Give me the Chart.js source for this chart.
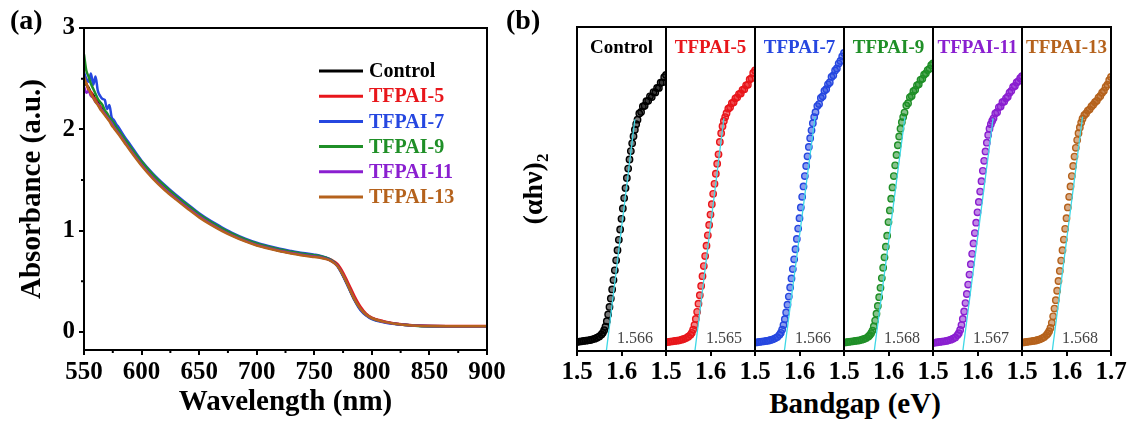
<!DOCTYPE html>
<html>
<head>
<meta charset="utf-8">
<script src="https://cdn.jsdelivr.net/npm/chart.js@4.4.0/dist/chart.umd.min.js"></script>
<style>
body { margin: 0; background: #fff; }
#wrap { position: relative; width: 1132px; height: 425px; overflow: hidden; font-family: 'Liberation Serif', 'Times New Roman', serif; }
#wrap canvas { position: absolute; top: 0; }
.lbl { position: absolute; font-weight: bold; color: #000; white-space: nowrap; line-height: 1; }
.lbl sub { font-size: 17px; }
</style>
</head>
<body>
<div id="wrap">
  <canvas id="chart-a" width="520" height="425" style="left:0"></canvas>
  <div class="lbl" style="left:10px; top:6px; font-size:28px;">(a)</div>
  <div class="lbl" style="left:506px; top:6px; font-size:28px;">(b)</div>
  <div class="lbl" style="left:535px; top:189px; font-size:28px; transform: translate(-50%,-50%) rotate(-90deg);">(αhν)<sub>2</sub></div>
  <div class="lbl" style="left:855px; top:403px; font-size:29px; transform: translate(-50%,-50%);">Bandgap (eV)</div>
</div>
<script>
// 系列名と色
const SERIES_NAMES = ['Control', 'TFPAI-5', 'TFPAI-7', 'TFPAI-9', 'TFPAI-11', 'TFPAI-13'];
const SERIES_COLORS = ['#000000', '#e8161b', '#2647e0', '#1f8f27', '#8a1fd0', '#b5621c'];

// (a) 吸収スペクトル
const WAVELENGTH = [550,552,554,556,558,560,562,564,566,568,570,572,574,576,578,580,585,590,600,610,620,630,640,650,660,670,680,690,700,710,720,730,740,750,755,760,765,770,775,780,785,790,795,800,810,820,830,840,850,870,900];
const ABS_CONTROL = [2.50,2.44,2.41,2.36,2.34,2.29,2.27,2.22,2.20,2.16,2.14,2.10,2.07,2.03,2.01,1.97,1.89,1.81,1.66,1.53,1.42,1.32,1.23,1.145,1.07,1.005,0.95,0.90,0.86,0.83,0.80,0.78,0.76,0.745,0.738,0.725,0.70,0.655,0.56,0.44,0.32,0.23,0.17,0.135,0.10,0.08,0.068,0.06,0.056,0.055,0.055];
const ABS_TFPAI5 = [2.47,2.46,2.38,2.37,2.32,2.30,2.25,2.23,2.18,2.17,2.12,2.11,2.06,2.04,2.00,1.98,1.89,1.82,1.665,1.535,1.425,1.325,1.235,1.15,1.075,1.01,0.955,0.905,0.865,0.833,0.805,0.783,0.763,0.748,0.742,0.73,0.71,0.67,0.585,0.47,0.35,0.25,0.18,0.14,0.105,0.082,0.07,0.062,0.058,0.057,0.056];
const ABS_TFPAI7 = [2.56,2.50,2.47,2.55,2.44,2.52,2.38,2.33,2.30,2.29,2.20,2.24,2.12,2.09,2.05,2.02,1.93,1.85,1.69,1.56,1.45,1.35,1.26,1.17,1.095,1.03,0.97,0.92,0.88,0.848,0.82,0.798,0.778,0.762,0.752,0.735,0.705,0.65,0.55,0.43,0.31,0.215,0.16,0.125,0.095,0.077,0.066,0.059,0.055,0.054,0.054];
const ABS_TFPAI9 = [2.74,2.58,2.52,2.45,2.40,2.35,2.30,2.27,2.24,2.19,2.16,2.12,2.09,2.06,2.02,1.99,1.91,1.83,1.68,1.55,1.44,1.34,1.25,1.16,1.085,1.02,0.962,0.912,0.872,0.84,0.812,0.79,0.77,0.755,0.747,0.732,0.705,0.655,0.555,0.435,0.315,0.225,0.165,0.13,0.098,0.078,0.066,0.058,0.054,0.054,0.055];
const ABS_TFPAI11 = [2.42,2.36,2.38,2.33,2.31,2.27,2.25,2.21,2.18,2.15,2.12,2.09,2.06,2.02,1.99,1.96,1.88,1.80,1.65,1.52,1.41,1.315,1.225,1.14,1.065,1.00,0.945,0.897,0.857,0.827,0.80,0.778,0.758,0.744,0.737,0.723,0.698,0.652,0.56,0.44,0.32,0.228,0.168,0.133,0.099,0.079,0.067,0.059,0.056,0.055,0.055];
const ABS_TFPAI13 = [2.52,2.45,2.40,2.35,2.31,2.27,2.24,2.20,2.17,2.14,2.11,2.08,2.04,2.01,1.98,1.95,1.87,1.79,1.64,1.51,1.40,1.305,1.215,1.13,1.058,0.995,0.94,0.892,0.852,0.822,0.795,0.773,0.753,0.738,0.731,0.718,0.695,0.65,0.56,0.44,0.32,0.23,0.17,0.135,0.10,0.08,0.068,0.06,0.056,0.055,0.055];
const WL_TICKS = [550, 600, 650, 700, 750, 800, 850, 900];
const WL_MINOR = [575, 625, 675, 725, 775, 825, 875];
const ABS_TICKS = [0, 1, 2, 3];
const ABS_MINOR = [0.5, 1.5, 2.5];

// (b) Taucプロット
const ENERGY = [1.500,1.505,1.510,1.515,1.520,1.525,1.530,1.535,1.540,1.545,1.550,1.555,1.558,1.561,1.564,1.567,1.570,1.573,1.576,1.579,1.582,1.585,1.588,1.591,1.594,1.597,1.600,1.603,1.606,1.609,1.612,1.615,1.618,1.621,1.624,1.627,1.630,1.633,1.636,1.640,1.644,1.648,1.652,1.656,1.660,1.664,1.668,1.672,1.676,1.680,1.684,1.688,1.692,1.696,1.700];
const TAUC_CONTROL = [0.028,0.029,0.030,0.031,0.032,0.033,0.034,0.036,0.038,0.041,0.045,0.051,0.056,0.064,0.075,0.092,0.113,0.136,0.162,0.190,0.219,0.249,0.280,0.311,0.343,0.375,0.408,0.440,0.472,0.503,0.534,0.563,0.591,0.617,0.641,0.663,0.683,0.700,0.714,0.733,0.738,0.755,0.757,0.771,0.772,0.786,0.784,0.799,0.798,0.812,0.812,0.828,0.829,0.845,0.852];
const TAUC_TFPAI5 = [0.027,0.028,0.029,0.030,0.031,0.032,0.033,0.035,0.037,0.040,0.044,0.050,0.056,0.066,0.080,0.099,0.121,0.146,0.172,0.201,0.231,0.262,0.293,0.325,0.357,0.389,0.421,0.453,0.485,0.516,0.547,0.578,0.607,0.645,0.672,0.694,0.710,0.722,0.734,0.748,0.752,0.765,0.768,0.780,0.783,0.793,0.795,0.806,0.808,0.820,0.822,0.838,0.842,0.858,0.866];
const TAUC_TFPAI7 = [0.026,0.027,0.028,0.029,0.030,0.031,0.032,0.034,0.036,0.039,0.043,0.050,0.056,0.066,0.080,0.098,0.119,0.143,0.168,0.196,0.224,0.253,0.283,0.314,0.346,0.378,0.410,0.443,0.476,0.508,0.540,0.571,0.601,0.630,0.657,0.681,0.703,0.722,0.737,0.756,0.762,0.781,0.786,0.803,0.808,0.823,0.829,0.846,0.851,0.866,0.872,0.887,0.895,0.909,0.920];
const TAUC_TFPAI9 = [0.026,0.027,0.028,0.029,0.030,0.031,0.032,0.033,0.035,0.037,0.040,0.045,0.049,0.055,0.063,0.076,0.094,0.115,0.139,0.166,0.195,0.225,0.257,0.289,0.322,0.356,0.398,0.434,0.470,0.505,0.540,0.573,0.605,0.635,0.662,0.686,0.706,0.722,0.736,0.758,0.765,0.783,0.787,0.802,0.806,0.820,0.823,0.837,0.840,0.853,0.857,0.867,0.871,0.882,0.888];
const TAUC_TFPAI11 = [0.025,0.026,0.027,0.028,0.029,0.030,0.031,0.033,0.035,0.038,0.042,0.049,0.055,0.065,0.080,0.099,0.122,0.148,0.176,0.205,0.236,0.268,0.300,0.332,0.364,0.396,0.428,0.460,0.492,0.524,0.556,0.587,0.616,0.643,0.667,0.686,0.700,0.710,0.718,0.733,0.737,0.752,0.755,0.768,0.770,0.780,0.785,0.797,0.803,0.815,0.818,0.829,0.833,0.842,0.848];
const TAUC_TFPAI13 = [0.026,0.027,0.028,0.029,0.030,0.031,0.032,0.034,0.036,0.039,0.043,0.049,0.054,0.061,0.071,0.087,0.107,0.131,0.157,0.186,0.216,0.247,0.279,0.311,0.344,0.377,0.410,0.443,0.476,0.508,0.540,0.571,0.600,0.627,0.651,0.672,0.690,0.705,0.717,0.728,0.733,0.742,0.746,0.755,0.760,0.768,0.772,0.782,0.787,0.797,0.803,0.815,0.822,0.836,0.846];
const BANDGAP = [1.566, 1.565, 1.566, 1.568, 1.567, 1.568];
const FIT_TOP_E = [1.630, 1.630, 1.635, 1.637, 1.635, 1.636];
const FIT_TOP_Y = [0.715, 0.718, 0.723, 0.723, 0.718, 0.723];
const EV_TICKS = [1.5, 1.6, 1.7];

const ABS_SERIES = [ABS_CONTROL, ABS_TFPAI5, ABS_TFPAI7, ABS_TFPAI9, ABS_TFPAI11, ABS_TFPAI13];
const TAUC_SERIES = [TAUC_CONTROL, TAUC_TFPAI5, TAUC_TFPAI7, TAUC_TFPAI9, TAUC_TFPAI11, TAUC_TFPAI13];

const SERIF = "'Liberation Serif', 'Times New Roman', serif";
Chart.defaults.font.family = SERIF;
Chart.defaults.color = '#000';
Chart.defaults.animation = false;

const tickFont = { family: SERIF, size: 25, weight: 'bold' };
const titleFont = { family: SERIF, size: 29, weight: 'bold' };

// 枠線（上と右も閉じる）
const framePlugin = {
    id: 'frame',
    afterDraw(chart) {
        const { ctx, chartArea: a } = chart;
        ctx.save();
        ctx.strokeStyle = '#000';
        ctx.lineWidth = 2;
        ctx.strokeRect(a.left, a.top, a.right - a.left, a.bottom - a.top);
        ctx.restore();
    }
};

// 副目盛り（外向きの短い線）
const minorTicks = {
    id: 'minorTicks',
    afterDraw(chart) {
        const { ctx, chartArea: a, scales } = chart;
        ctx.save();
        ctx.strokeStyle = '#000';
        ctx.lineWidth = 2;
        ctx.beginPath();
        WL_MINOR.forEach(v => {
            const px = scales.x.getPixelForValue(v);
            ctx.moveTo(px, a.bottom);
            ctx.lineTo(px, a.bottom + 3);
        });
        ABS_MINOR.forEach(v => {
            const py = scales.y.getPixelForValue(v);
            ctx.moveTo(a.left, py);
            ctx.lineTo(a.left - 3, py);
        });
        ctx.stroke();
        ctx.restore();
    }
};

// (a) の凡例（プロット内）
const inlineLegend = {
    id: 'inlineLegend',
    afterDatasetsDraw(chart) {
        const { ctx, chartArea: a } = chart;
        ctx.save();
        ctx.font = `bold 20px ${SERIF}`;
        ctx.textBaseline = 'middle';
        SERIES_NAMES.forEach((name, i) => {
            const y = a.top + 43 + i * 25.2;
            ctx.strokeStyle = SERIES_COLORS[i];
            ctx.lineWidth = 3;
            ctx.beginPath();
            ctx.moveTo(a.left + 235, y);
            ctx.lineTo(a.left + 279, y);
            ctx.stroke();
            ctx.fillStyle = SERIES_COLORS[i];
            ctx.fillText(name, a.left + 285, y + 1);
        });
        ctx.restore();
    }
};

new Chart(document.getElementById('chart-a'), {
    type: 'line',
    data: {
        datasets: SERIES_NAMES.map((name, i) => ({
            label: name,
            data: WAVELENGTH.map((w, k) => ({ x: w, y: ABS_SERIES[i][k] })),
            borderColor: SERIES_COLORS[i],
            borderWidth: 2.5,
            pointRadius: 0,
            cubicInterpolationMode: 'monotone',
            order: SERIES_NAMES.length - 1 - i
        }))
    },
    options: {
        responsive: false,
        devicePixelRatio: 1,
        layout: { padding: { top: 28, right: 33, left: 0, bottom: 0 } },
        plugins: { legend: { display: false }, tooltip: { enabled: false } },
        scales: {
            x: {
                type: 'linear', min: 550, max: 900,
                afterBuildTicks: s => { s.ticks = WL_TICKS.map(v => ({ value: v })); },
                afterFit: s => { s.height = 75; },
                grid: { drawOnChartArea: false, tickLength: 5, color: '#000', lineWidth: 2 },
                border: { color: '#000', width: 2 },
                ticks: { color: '#000', font: tickFont, padding: 3, maxRotation: 0, autoSkip: false },
                title: { display: true, text: 'Wavelength (nm)', color: '#000', font: titleFont, padding: { bottom: 5 } }
            },
            y: {
                min: -0.18, max: 3,
                afterBuildTicks: s => { s.ticks = ABS_TICKS.map(v => ({ value: v })); },
                afterFit: s => { s.width = 84; },
                grid: { drawOnChartArea: false, tickLength: 5, color: '#000', lineWidth: 2 },
                border: { color: '#000', width: 2 },
                ticks: { color: '#000', font: tickFont, padding: 4 },
                title: { display: true, text: 'Absorbance (a.u.)', color: '#000', font: titleFont, padding: { top: 15 } }
            }
        }
    },
    plugins: [framePlugin, minorTicks, inlineLegend]
});

// (b) 6つの小パネル
const PANEL_LEFT = 577;
const PANEL_W = 89;
const wrap = document.getElementById('wrap');

TAUC_SERIES.forEach((vals, i) => {
    const canvas = document.createElement('canvas');
    canvas.width = PANEL_W + 50;
    canvas.height = 425;
    canvas.style.left = (PANEL_LEFT + PANEL_W * i - 25) + 'px';
    wrap.appendChild(canvas);

    const color = SERIES_COLORS[i];
    const isLast = i === TAUC_SERIES.length - 1;

    // パネル名とバンドギャップ値
    const panelText = {
        id: 'panelText' + i,
        afterDraw(chart) {
            const { ctx, chartArea: a } = chart;
            ctx.save();
            ctx.font = `bold 19px ${SERIF}`;
            ctx.fillStyle = color;
            ctx.textAlign = 'center';
            ctx.textBaseline = 'alphabetic';
            ctx.fillText(SERIES_NAMES[i], (a.left + a.right) / 2, a.top + 26);
            ctx.font = `16px ${SERIF}`;
            ctx.fillStyle = '#444';
            ctx.textAlign = 'right';
            ctx.fillText(BANDGAP[i].toFixed(3), a.right - 13, a.bottom - 8);
            ctx.restore();
        }
    };

    new Chart(canvas, {
        type: 'scatter',
        data: {
            datasets: [
                {
                    label: 'fit',
                    type: 'line',
                    data: [{ x: BANDGAP[i], y: 0 }, { x: FIT_TOP_E[i], y: FIT_TOP_Y[i] }],
                    borderColor: '#3fd8e6',
                    borderWidth: 1.3,
                    pointRadius: 0,
                    order: 0
                },
                {
                    label: SERIES_NAMES[i],
                    data: ENERGY.map((e, k) => ({ x: e, y: vals[k] })),
                    borderColor: color,
                    backgroundColor: color + '88',
                    borderWidth: 1.4,
                    pointRadius: 3.2,
                    order: 1
                }
            ]
        },
        options: {
            responsive: false,
            devicePixelRatio: 1,
            layout: { padding: { top: 27, left: 25, right: 25, bottom: 0 } },
            plugins: { legend: { display: false }, tooltip: { enabled: false } },
            scales: {
                x: {
                    type: 'linear', min: 1.5, max: 1.7,
                    afterBuildTicks: s => { s.ticks = EV_TICKS.map(v => ({ value: v })); },
                    afterFit: s => { s.height = 74; },
                    grid: { drawOnChartArea: false, tickLength: 5, color: '#000', lineWidth: 2 },
                    border: { display: false },
                    ticks: {
                        color: '#000', font: tickFont, padding: 2, maxRotation: 0, autoSkip: false,
                        callback: v => (v === 1.7 && !isLast) ? '' : v.toFixed(1)
                    }
                },
                y: { display: false, min: 0, max: 1 }
            }
        },
        plugins: [framePlugin, panelText]
    });
});
</script>
</body>
</html>
